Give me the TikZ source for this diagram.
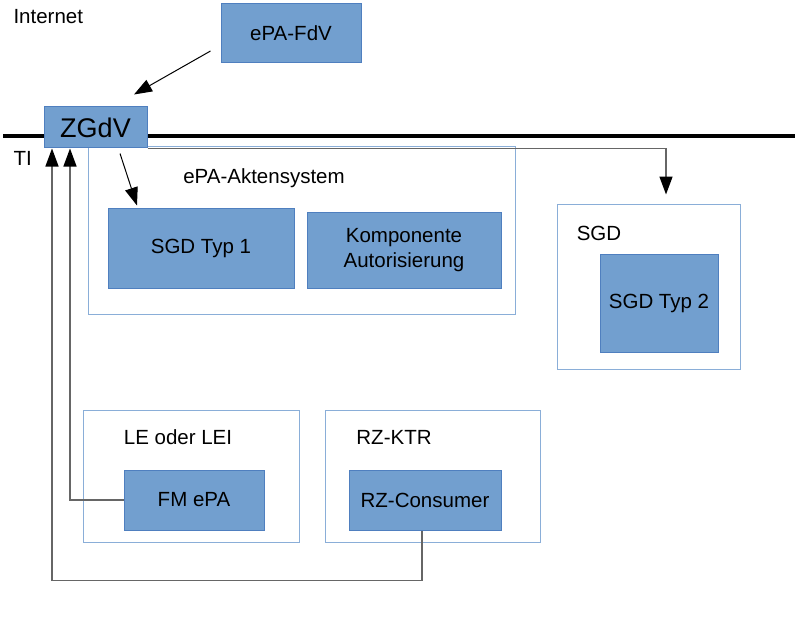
\documentclass[tikz,border=0pt]{standalone}
\usepackage{fontspec}
\setmainfont{Liberation Sans}
\usepackage{tikz}
\usetikzlibrary{arrows.meta, positioning}
\definecolor{boxfill}{HTML}{729FCF}
\definecolor{boxline}{HTML}{4F7FBF}
\definecolor{frameline}{HTML}{8AAED8}
\definecolor{wire}{HTML}{666666}

\begin{document}
\begin{tikzpicture}[x=1pt, y=-1pt, font=\fontsize{20.5}{25}\selectfont,
  comp/.style={draw=boxline, fill=boxfill, line width=1pt, inner sep=0pt, align=center},
  frame/.style={draw=frameline, line width=1pt, inner sep=0pt},
  arr/.style={line width=1pt, -{Triangle[length=18pt, width=13pt, color=black]}},
  gwire/.style={arr, draw=wire, line width=1.5pt}]
  \useasboundingbox (0,0) rectangle (803,623);
  % zones
  \draw[line width=3.5pt] (3,136) -- (795,136);
  \node[anchor=west] (inet) at (10,17) {Internet};
  \node[anchor=west] (ti) at (10,158) {TI};
  % containers
  \node[frame, minimum width=427pt, minimum height=167pt] (akten) at (301.5,230.5) {};
  \node (aktenlbl) at (264,178) {ePA-Aktensystem};
  \node[frame, minimum width=183pt, minimum height=165pt] (sgd) at (648.5,286.5) {};
  \node (sgdlbl) at (599,233) {SGD};
  \node[frame, minimum width=216pt, minimum height=132pt] (le) at (191,476) {};
  \node (lelbl) at (178,437) {LE oder LEI};
  \node[frame, minimum width=215pt, minimum height=132pt] (rz) at (432.5,476) {};
  \node (rzlbl) at (394,437) {RZ-KTR};
  % components
  \node[comp, minimum width=140pt, minimum height=59pt] (fdv) at (291,33.5) {ePA-FdV};
  \node[comp, minimum width=103pt, minimum height=41pt, font=\fontsize{27}{30}\selectfont] (zgdv) at (95.5,127.5) {ZGdV};
  \node[comp, minimum width=186pt, minimum height=80pt] (sgd1) at (201,248) {SGD Typ 1};
  \node[comp, minimum width=194pt, minimum height=76pt] (auth) at (404,250) {Komponente\\Autorisierung};
  \node[comp, minimum width=118pt, minimum height=98pt] (sgd2) at (659,303) {SGD Typ 2};
  \node[comp, minimum width=140pt, minimum height=60pt] (fm) at (194,500) {FM ePA};
  \node[comp, minimum width=152pt, minimum height=60pt] (rzc) at (425,500) {RZ-Consumer};
  % connections
  \draw[arr] ([xshift=-10pt, yshift=-17.5pt]fdv.west) -- ([xshift=38.5pt, yshift=12pt]zgdv.north);
  \draw[arr] ([xshift=24.5pt, yshift=-5pt]zgdv.south) -- ([xshift=-64pt, yshift=2pt]sgd1.north);
  \draw[gwire] (zgdv.south east) -| ([xshift=17.5pt, yshift=9pt]sgd.north);
  \draw[gwire] (fm.west) -| ([xshift=-25.5pt]zgdv.south);
  \draw[gwire] ([xshift=-3pt]rzc.south) -- ++(0,50) -| ([xshift=-43.5pt]zgdv.south);
\end{tikzpicture}
\end{document}
